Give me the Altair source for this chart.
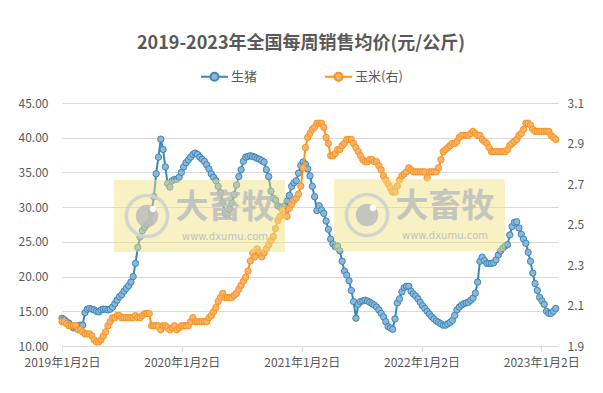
import altair as alt
import pandas as pd

start_date = "2019-01-02"
n_weeks = 216

pig = [
    14.0, 13.8, 13.5, 13.3, 13.0, 12.6, 12.7, 12.9, 13.0, 13.0,
    14.8, 15.3, 15.4, 15.3, 15.2, 15.0, 14.9, 15.2, 15.3, 15.3,
    15.2, 15.3, 15.6, 16.1, 16.6, 17.1, 17.4, 17.9, 18.3, 18.7,
    19.2, 20.0, 21.9, 24.2, 25.7, 26.6, 27.1, 27.5, 27.9, 29.3,
    31.5, 34.8, 37.2, 39.8, 38.3, 35.8, 33.4, 32.9, 33.8, 34.0,
    34.0, 34.3, 35.0, 35.8, 36.4, 36.8, 37.2, 37.6, 37.8, 37.6,
    37.2, 36.9, 36.6, 36.1, 35.5, 34.8, 34.3, 33.8, 33.0, 32.1,
    30.7, 29.1, 28.9, 29.7, 30.6, 31.8, 33.2, 34.4, 35.4, 36.6,
    37.2, 37.3, 37.4, 37.3, 37.2, 37.0, 36.9, 36.7, 36.5, 35.4,
    34.4, 32.3, 31.3, 31.0, 30.2, 30.0, 30.0, 30.2, 30.9, 31.7,
    33.0, 33.5, 33.8, 34.9, 36.0, 36.5, 36.2, 35.5, 34.5, 33.0,
    31.5, 29.5, 30.2, 29.6, 29.1, 28.0, 26.8, 25.4, 24.7, 24.3,
    24.4, 23.7, 22.2, 20.8, 20.2, 19.4, 18.0, 16.4, 14.0, 16.0,
    16.4, 16.5, 16.6, 16.5, 16.3, 16.1, 15.9, 15.6, 15.2, 14.7,
    14.2, 13.5, 12.8, 12.6, 12.4, 13.9, 16.2, 16.8, 17.8, 18.4,
    18.6, 18.6, 17.9, 17.5, 17.2, 16.8, 16.3, 15.8, 15.4, 15.0,
    14.6, 14.2, 13.9, 13.6, 13.4, 13.2, 13.0, 13.0, 13.2, 13.4,
    13.7, 14.4, 15.2, 15.6, 15.9, 16.1, 16.2, 16.3, 16.6, 16.9,
    17.6, 19.2, 22.2, 22.8, 22.3, 21.9, 21.9, 21.9, 22.0, 22.4,
    23.1, 23.7, 24.1, 24.4, 24.6, 26.0, 27.2, 27.8, 27.9, 27.0,
    26.1, 25.4, 24.8, 23.5, 22.2, 20.5, 19.0, 18.0, 17.0, 16.5,
    16.0, 15.0, 14.7, 14.7, 15.0, 15.4,
]

corn = [
    2.02, 2.02, 2.01, 2.00, 2.00, 2.00, 2.00, 1.98, 1.98, 1.97,
    1.96, 1.96, 1.96, 1.95, 1.93, 1.92, 1.92, 1.93, 1.95, 1.97,
    2.00, 2.02, 2.04, 2.04, 2.05, 2.05, 2.04, 2.04, 2.04, 2.04,
    2.04, 2.04, 2.05, 2.04, 2.04, 2.05, 2.06, 2.06, 2.06, 2.00,
    2.00, 2.00, 2.00, 1.98, 2.00, 2.00, 1.99, 1.98, 1.99, 2.00,
    1.98, 1.99, 2.00, 2.00, 2.00, 2.00, 2.02, 2.04, 2.02, 2.02,
    2.02, 2.02, 2.02, 2.02, 2.04, 2.05, 2.07, 2.09, 2.12, 2.14,
    2.16, 2.14, 2.14, 2.14, 2.14, 2.15, 2.16, 2.18, 2.20, 2.22,
    2.24, 2.27, 2.32, 2.36, 2.34, 2.38, 2.36, 2.34, 2.36, 2.38,
    2.40, 2.42, 2.44, 2.48, 2.52, 2.54, 2.57, 2.55, 2.54, 2.58,
    2.60, 2.62, 2.63, 2.65, 2.69, 2.78, 2.88, 2.93, 2.95, 2.97,
    2.98, 3.00, 3.00, 3.00, 2.98, 2.93, 2.90, 2.84, 2.84, 2.85,
    2.87, 2.87, 2.89, 2.90, 2.92, 2.92, 2.92, 2.90, 2.88, 2.86,
    2.84, 2.82, 2.81, 2.81, 2.82, 2.82, 2.81, 2.81, 2.79, 2.77,
    2.74, 2.72, 2.70, 2.68, 2.66, 2.66, 2.69, 2.72, 2.74, 2.75,
    2.76, 2.78, 2.77, 2.76, 2.76, 2.76, 2.76, 2.76, 2.76, 2.73,
    2.76, 2.76, 2.76, 2.76, 2.78, 2.82, 2.86, 2.87, 2.88, 2.89,
    2.90, 2.90, 2.91, 2.93, 2.94, 2.94, 2.94, 2.94, 2.95, 2.96,
    2.95, 2.94, 2.94, 2.92, 2.91, 2.90, 2.88, 2.86, 2.86, 2.86,
    2.86, 2.86, 2.86, 2.86, 2.87, 2.89, 2.90, 2.91, 2.92, 2.94,
    2.95, 2.97, 3.00, 3.00, 2.99, 2.97, 2.96, 2.96, 2.96, 2.96,
    2.96, 2.96, 2.96, 2.94, 2.93, 2.92,
]

series_names = ["生猪", "玉米(右)"]
line_colors = ["#3a87b8", "#f7931e"]
fill_colors = ["#8db6d8", "#fbb36b"]
left_ticks = [10, 15, 20, 25, 30, 35, 40, 45]
right_ticks = [1.9, 2.1, 2.3, 2.5, 2.7, 2.9, 3.1]
tick_years = [2019, 2020, 2021, 2022, 2023]
title_text = "2019-2023年全国每周销售均价(元/公斤)"

assert len(pig) == n_weeks and len(corn) == n_weeks

dates = pd.date_range(start_date, periods=n_weeks, freq="7D").strftime("%Y-%m-%dT00:00:00")
df_pig = pd.DataFrame({"date": dates, "value": pig, "series": series_names[0]})
df_corn = pd.DataFrame({"date": dates, "value": corn, "series": series_names[1]})

FONT = "Noto Sans CJK SC"
GREY = "#595959"

x_enc = alt.X(
    "date:T",
    scale=alt.Scale(domain=[alt.DateTime(year=2019, month=1, date=2),
                            alt.DateTime(year=2023, month=2, date=22)]),
    axis=alt.Axis(
        values=[alt.DateTime(year=y, month=1, date=2) for y in tick_years],
        format="%Y年%-m月%-d日", title=None, grid=False,
        domainColor="#d9d9d9", tickColor="#d9d9d9", tickSize=5,
        labelPadding=6, labelFontSize=12, labelColor=GREY, labelFont=FONT,
        labelFlush=False, labelOverlap=False, labelBound=False,
    ),
)

stroke_scale = alt.Scale(domain=series_names, range=line_colors)
fill_scale = alt.Scale(domain=series_names, range=fill_colors)
legend = alt.Legend(
    title=None, orient="none", direction="horizontal",
    legendX=138, legendY=-41,
    symbolType="M-1,0H-0.3M0.3,0H1M0.3,0A0.3,0.3,0,1,1,-0.3,0A0.3,0.3,0,1,1,0.3,0",
    symbolSize=729, symbolStrokeWidth=2, symbolOpacity=1,
    labelFont=FONT, labelFontSize=13, labelColor=GREY, labelOffset=2,
    columnPadding=63, padding=0,
)


def series_layer(df, axis):
    y_enc = alt.Y("value:Q", scale=axis[0], axis=axis[1])
    line = alt.Chart(df).mark_line(strokeWidth=2).encode(
        x=x_enc, y=y_enc,
        stroke=alt.Stroke("series:N", scale=stroke_scale, legend=legend),
    )
    pts = alt.Chart(df).mark_point(shape="circle", filled=True, size=40,
                                    strokeWidth=1, opacity=1).encode(
        x=x_enc, y=y_enc,
        stroke=alt.Stroke("series:N", scale=stroke_scale, legend=legend),
        fill=alt.Fill("series:N", scale=fill_scale, legend=legend),
    )
    return alt.layer(line, pts)


left_axis = (
    alt.Scale(domain=[10, 45], nice=False, zero=False),
    alt.Axis(values=left_ticks, format=".2f", title=None, grid=True,
             gridColor="#d9d9d9", domain=False, ticks=False, labelPadding=14,
             labelFontSize=12, labelColor=GREY, labelFont=FONT),
)
right_axis = (
    alt.Scale(domain=[1.9, 3.1], nice=False, zero=False),
    alt.Axis(values=right_ticks, format=".1f", title=None, grid=False,
             orient="right", domain=False, ticks=False, labelPadding=9,
             labelFontSize=12, labelColor=GREY, labelFont=FONT),
)

one = pd.DataFrame({"k": [0]})


def watermark(x0, y0):
    rect = alt.Chart(one).mark_rect(fill="#ede07a", opacity=0.45).encode(
        x=alt.value(x0), x2=alt.value(x0 + 171),
        y=alt.value(y0), y2=alt.value(y0 + 72))
    ring = alt.Chart(one).mark_point(shape="circle", size=1700, strokeWidth=3.5,
                                     color="#d2d2d2", filled=False, opacity=0.9).encode(
        x=alt.value(x0 + 33), y=alt.value(y0 + 36))
    disc = alt.Chart(one).mark_circle(size=500, color="#bcbcbc", opacity=0.85).encode(
        x=alt.value(x0 + 33), y=alt.value(y0 + 36))
    hi = alt.Chart(one).mark_circle(size=40, color="#ffffff", opacity=0.9).encode(
        x=alt.value(x0 + 39), y=alt.value(y0 + 29))
    big = alt.Chart(one).mark_text(text="大畜牧", font=FONT, fontSize=33,
                                   fontWeight="bold", color="#bdbdbd", opacity=0.85).encode(
        x=alt.value(x0 + 111), y=alt.value(y0 + 28))
    small = alt.Chart(one).mark_text(text="www.dxumu.com", font="DejaVu Sans", fontSize=10,
                                     color="#bdbdbd", opacity=0.9).encode(
        x=alt.value(x0 + 111), y=alt.value(y0 + 57))
    return [rect, ring, disc, hi, big, small]


chart = alt.layer(
    series_layer(df_pig, left_axis),
    series_layer(df_corn, right_axis),
    *watermark(52, 77),
    *watermark(272, 76),
).resolve_scale(y="independent").properties(
    width=496, height=243,
    autosize=alt.AutoSizeParams(type="none"),
    padding={"left": 62, "top": 103, "right": 45, "bottom": 47},
    title=alt.TitleParams(title_text, font=FONT, fontSize=18, fontWeight="bold",
                          color=GREY, anchor="middle", frame="group", dx=-9, offset=9),
).configure_view(stroke=None)

chart.save("out.html", embed_options={"renderer": "svg", "actions": False})
